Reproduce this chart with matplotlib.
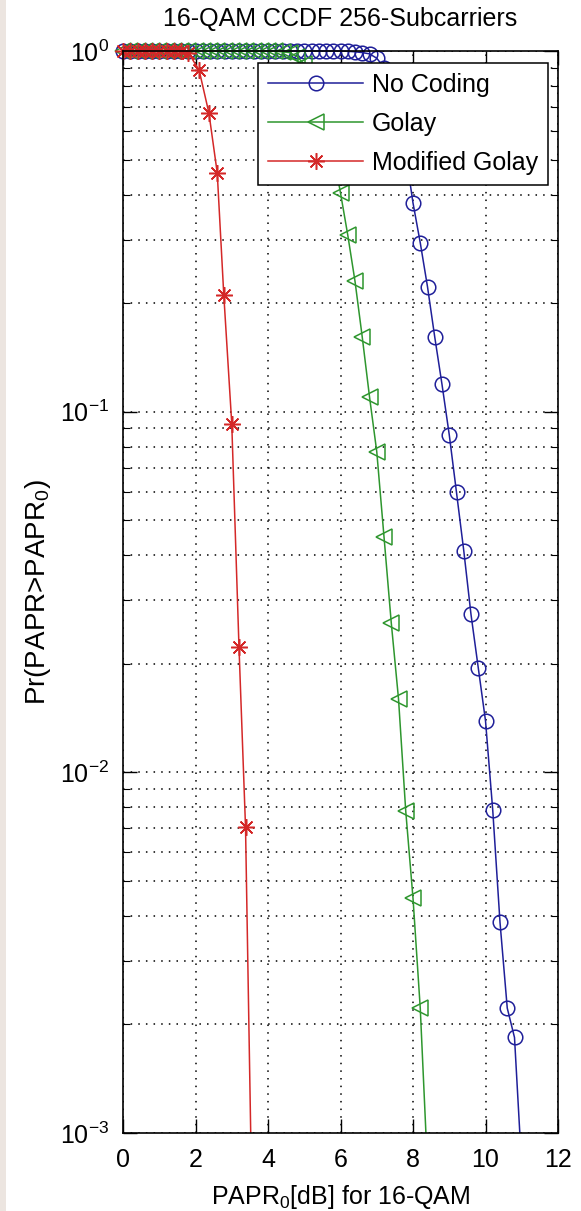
import matplotlib
matplotlib.use("Agg")
import matplotlib.pyplot as plt
from matplotlib.patches import Rectangle
from matplotlib.ticker import LogLocator, NullFormatter

# MATLAB-like look
plt.rcParams['font.family'] = ['Liberation Sans', 'DejaVu Sans']
plt.rcParams['mathtext.fontset'] = 'custom'
plt.rcParams['mathtext.rm'] = 'Liberation Sans'
plt.rcParams['mathtext.it'] = 'Liberation Sans'
plt.rcParams['axes.unicode_minus'] = False

# ================= data =================
x_nocoding = [0.0, 0.2, 0.4, 0.6, 0.8, 1.0, 1.2, 1.4, 1.6, 1.8, 2.0, 2.2, 2.4, 2.6,
              2.8, 3.0, 3.2, 3.4, 3.6, 3.8, 4.0, 4.2, 4.4, 4.6, 4.8, 5.0, 5.2, 5.4,
              5.6, 5.8, 6.0, 6.2, 6.4, 6.6, 6.8, 7.0, 7.2, 7.4, 7.6, 7.8, 8.0, 8.2,
              8.4, 8.6, 8.8, 9.0, 9.2, 9.4, 9.6, 9.8, 10.0, 10.2, 10.4, 10.6, 10.8, 11.0]
p_nocoding = [1.0, 1.0, 1.0, 1.0, 1.0, 1.0, 1.0, 1.0, 1.0, 1.0, 1.0, 1.0, 1.0, 1.0,
              1.0, 1.0, 1.0, 1.0, 1.0, 1.0, 1.0, 1.0, 1.0, 1.0, 1.0, 1.0, 1.0, 1.0,
              1.0, 1.0, 1.0, 0.998, 0.995, 0.99, 0.982, 0.955, 0.9, 0.8, 0.66, 0.52, 0.379, 0.294,
              0.222, 0.161, 0.119, 0.0863, 0.0597, 0.0412, 0.0274, 0.0195, 0.0139, 0.00785,
              0.00384, 0.00222, 0.00184, 0.0008]

x_golay = [0.0, 0.2, 0.4, 0.6, 0.8, 1.0, 1.2, 1.4, 1.6, 1.8, 2.0, 2.2, 2.4, 2.6,
           2.8, 3.0, 3.2, 3.4, 3.6, 3.8, 4.0, 4.2, 4.4, 4.6, 4.8, 5.0, 5.2, 5.4,
           5.6, 5.8, 6.0, 6.2, 6.4, 6.6, 6.8, 7.0, 7.2, 7.4, 7.6, 7.8, 8.0, 8.2, 8.4]
p_golay = [1.0, 1.0, 1.0, 1.0, 1.0, 1.0, 1.0, 1.0, 1.0, 1.0, 1.0, 1.0, 1.0, 1.0,
           1.0, 1.0, 1.0, 1.0, 1.0, 1.0, 1.0, 0.998, 0.995, 0.99, 0.965, 0.92, 0.85, 0.76,
           0.65, 0.52, 0.404, 0.309, 0.23, 0.161, 0.110, 0.0775, 0.045, 0.026, 0.016,
           0.0078, 0.00448, 0.00222, 0.0008]

x_modgolay = [0.0, 0.2, 0.4, 0.6, 0.8, 1.0, 1.2, 1.4, 1.6, 1.8, 2.1, 2.37, 2.6, 2.78,
              3.0, 3.2, 3.38, 3.6]
p_modgolay = [1.0, 1.0, 1.0, 1.0, 1.0, 1.0, 1.0, 1.0, 0.998, 0.99, 0.885, 0.673, 0.459,
              0.211, 0.0927, 0.0222, 0.00705, 0.00035]

labels = ['No Coding', 'Golay', 'Modified Golay']
# ===============================================================

W, H = 581, 1211
fig = plt.figure(figsize=(W / 100, H / 100), dpi=100)
fig.patch.set_facecolor('white')
# thin tinted strip at the left edge of the screenshot
fig.patches.append(Rectangle((0, 0), 6 / W, 1, transform=fig.transFigure,
                             facecolor='#ece5e0', edgecolor='none', zorder=0))
ax = fig.add_axes([123 / W, (H - 1133) / H, 435 / W, 1082 / H])

l1, = ax.plot(x_nocoding, p_nocoding, color='#1f1f99', lw=1.1, marker='o',
              ms=10.5, mfc='none', mec='#1f1f99', mew=1.1, label=labels[0])
l2, = ax.plot(x_golay, p_golay, color='#2e962e', lw=1.1, marker='<',
              ms=11, mfc='none', mec='#2e962e', mew=1.1, label=labels[1])
l3, = ax.plot(x_modgolay, p_modgolay, color='#d42828', lw=1.1, marker=(8, 2, 0),
              ms=12, mfc='none', mec='#d42828', mew=1.1, label=labels[2])

# let the top row of markers stick out above the frame, but clip at the bottom
for ln in (l1, l2, l3):
    clip = Rectangle((-0.05, 0.0), 1.1, 1.1, transform=ax.transAxes)
    ln.set_clip_path(clip)

ax.set_yscale('log')
ax.set_xlim(0, 12)
ax.set_ylim(1e-3, 1)
ax.set_xticks([0, 2, 4, 6, 8, 10, 12])
ax.yaxis.set_minor_locator(LogLocator(base=10, subs=range(2, 10), numticks=20))
ax.yaxis.set_minor_formatter(NullFormatter())

ax.tick_params(which='both', direction='in', top=True, right=True, colors='black')
ax.tick_params(which='major', length=10, width=1.0, labelsize=18)
ax.tick_params(which='minor', length=5, width=0.8)
ax.tick_params(axis='x', pad=11)
ax.tick_params(axis='y', pad=10)

dots = (0, (1, 4))
ax.grid(True, which='major', linestyle=dots, color='black', lw=1.1)
ax.grid(True, which='minor', axis='y', linestyle=dots, color='black', lw=1.1)
for sp in ax.spines.values():
    sp.set_linewidth(1.2)

ax.set_title('16-QAM CCDF 256-Subcarriers', fontsize=18, pad=18)
ax.set_xlabel(r'PAPR$_0$[dB] for 16-QAM', fontsize=18, labelpad=8)
ax.set_ylabel(r'Pr(PAPR>PAPR$_0$)', fontsize=20, labelpad=5)

leg = ax.legend(loc='upper right', bbox_to_anchor=(548 / W, 1 - 63 / H),
                bbox_transform=fig.transFigure, borderaxespad=0, fontsize=18,
                handlelength=3.8, handletextpad=0.35, borderpad=0.4,
                labelspacing=0.6, fancybox=False, framealpha=1, edgecolor='black')
leg.get_frame().set_linewidth(1.1)

fig.savefig('out.png', dpi=100)
